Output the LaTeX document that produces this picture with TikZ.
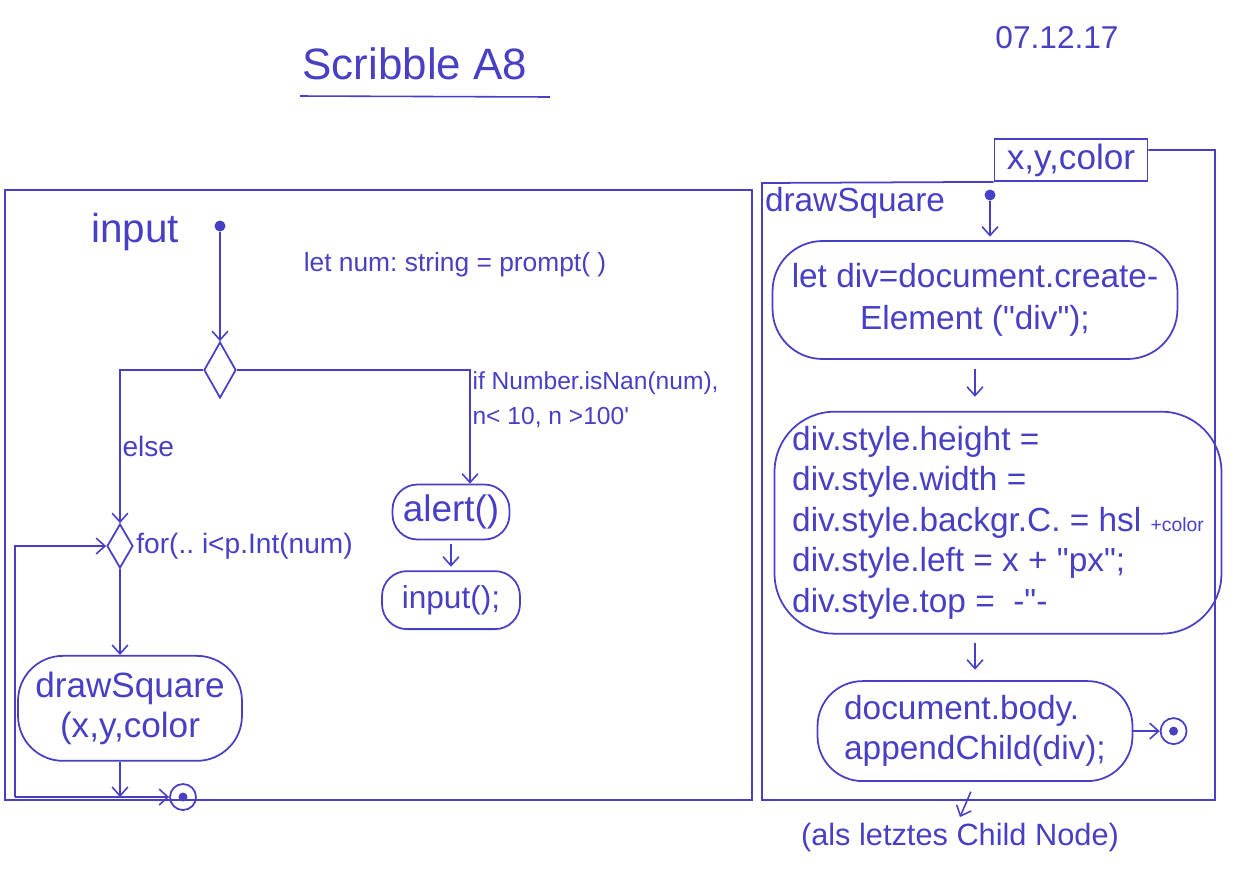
\documentclass[tikz,border=0pt]{standalone}
\usepackage{fontspec}
\setmainfont{Liberation Sans}[Ligatures=TeXOff]
\usepackage{tikz}
\usetikzlibrary{arrows.meta, positioning, shapes.geometric}
\definecolor{ink}{RGB}{72,64,196}
\frenchspacing

\begin{document}
\begin{tikzpicture}[
    x=0.02cm, y=-0.02cm, >={Straight Barb[length=5pt,width=9pt]},
    color=ink, line width=0.9pt, font=\fontsize{19}{23}\selectfont,
    act/.style={rectangle, rounded corners=0.5cm, draw, line width=1pt, align=center, inner sep=2pt},
    dec/.style={diamond, draw, line width=1pt, inner sep=0pt, minimum width=0.64cm, minimum height=1.12cm},
    ini/.style={circle, fill, inner sep=0pt, minimum size=0.22cm},
    fin/.style={circle, draw, line width=1pt, inner sep=0pt, minimum size=0.52cm,
      path picture={\fill (path picture bounding box.center) circle (0.09cm);}},
    ar/.style={->, line width=0.9pt},
    lbl/.style={font=\fontsize{14}{20}\selectfont, align=left, inner sep=1pt}]
  \useasboundingbox (0,0) rectangle (1234,887);
  \node (ttl) at (415,64) {\fontsize{25}{30}\selectfont Scribble A8};
  \draw (300,96) -- (550,97);
  \node (dat) at (1057,38) {\fontsize{18}{22}\selectfont 07.12.17};
  \draw[line width=1pt] (5,190) rectangle (752,800);
  \node[font=\fontsize{23}{28}\selectfont] (inl) at (135,232) {input};
  \node[ini] (s1) at (220,226) {};
  \node[lbl, font=\fontsize{15}{18}\selectfont] (num) at (455,265) {let num: string = prompt( )};
  \node[dec] (d1) at (220,370) {};
  \node[dec, minimum width=0.52cm, minimum height=0.88cm] (d2) at (120,546) {};
  \node[lbl, anchor=west, font=\fontsize{16}{20}\selectfont] (frl) at (d2.east) {for(.. i<p.Int(num)};
  \node[act, minimum width=2.34cm, minimum height=1.1cm, font=\fontsize{21}{25}\selectfont] (alrt) at (451,512) {alert()};
  \node[act, below=17pt of alrt, minimum width=2.76cm, minimum height=1.16cm, font=\fontsize{18}{22}\selectfont] (inp) {input();};
  \node[act, below=49pt of d2, xshift=0.2cm, minimum width=4.48cm, minimum height=2.1cm, rounded corners=0.9cm,
    font=\fontsize{20}{23}\selectfont] (dsq) {drawSquare\\(x,y,color};
  \node[fin] (f1) at (183,797) {};
  \coordinate (lp) at (15,797);
  \coordinate (mg) at (120,797);
  \draw[ar] (s1) -- (d1);
  \draw[ar] (d1.west) -| node[pos=0.75, right, lbl, font=\fontsize{16}{20}\selectfont] {else} (d2.north);
  \draw[ar] (d1.east) -| node[pos=0.63, right, lbl] {if Number.isNan(num),\\n< 10, n >100'} ([xshift=0.38cm]alrt.north);
  \draw[ar, shorten <=2pt, shorten >=2pt] (alrt.south) -- (inp.north);
  \draw[ar] (d2.south) -- (d2.south |- dsq.north);
  \draw[ar] (dsq.south -| d2) -- (mg);
  \draw[ar] (lp) -- (f1);
  \draw[ar] (lp) |- (d2.west);

  \node[draw, line width=1pt, minimum width=3.06cm, minimum height=0.84cm, inner sep=1pt,
    font=\fontsize{20}{24}\selectfont] (prm) at (1071,160) {x,y,color};
  \coordinate (tr) at (1215,150);
  \draw[line width=1pt] (prm.south west) -- (762,183) -- (762,800) -- (1215,800) -- (tr) -- (prm.east |- tr);
  \node (dsl) at (855,203) {drawSquare};
  \node[ini] (s2) at (990,195) {};
  \node[act, minimum width=8.1cm, minimum height=2.36cm, rounded corners=1cm, font=\fontsize{19}{24}\selectfont]
    (crt) at (975,300) {let div=document.create-\\Element ("div");};
  \node[act, below=29pt of crt, xshift=0.46cm, minimum width=8.94cm, minimum height=4.44cm, rounded corners=1.2cm,
    align=left] (sty) {div.style.height =\\div.style.width =\\div.style.backgr.C. = hsl {\fontsize{11}{11}\selectfont +color}\\div.style.left = x + "px";\\div.style.top = \ -"-};
  \node[act, below=26pt of sty, xshift=-0.46cm, minimum width=6.3cm, minimum height=2cm, rounded corners=0.9cm,
    align=left] (app) {document.body.\\appendChild(div);};
  \node[fin, right=15pt of app] (f2) {};
  \node[font=\fontsize{17.5}{21}\selectfont] (note) at (960,838) {(als letztes Child Node)};
  \draw[ar, shorten >=2pt] (s2) -- (s2 |- crt.north);
  \draw[ar, shorten <=5pt, shorten >=8pt] (crt.south) -- (crt.south |- sty.north);
  \draw[ar, shorten <=5pt, shorten >=6pt] (app.north |- sty.south) -- (app.north);
  \draw[ar] (app) -- (f2);
  \draw[ar, shorten <=6pt] (app.south) -- (note.north);
\end{tikzpicture}
\end{document}
